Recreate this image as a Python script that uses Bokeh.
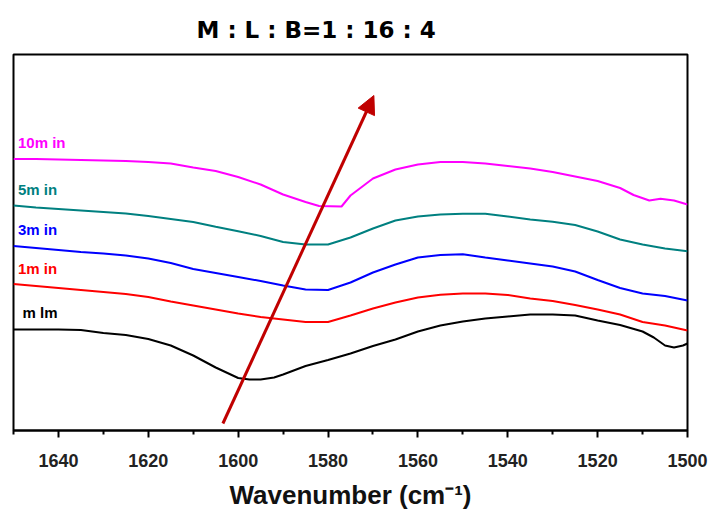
from bokeh.plotting import figure
from bokeh.models import Range1d, FixedTicker, Arrow, NormalHead, ColumnDataSource
from bokeh.embed import file_html
from bokeh.resources import INLINE
from bokeh.core.properties import value

# FTIR spectra (arbitrary transmittance units), stacked by reaction time
wn_mlm = [1650, 1645, 1640, 1635, 1630, 1625, 1620, 1615, 1610, 1605, 1600, 1597.5,
          1595, 1592, 1590, 1585, 1580, 1575, 1570, 1565, 1560, 1555, 1550, 1545,
          1540, 1535, 1530, 1525, 1520, 1515, 1510, 1507.5, 1505, 1503, 1501, 1500]
t_mlm = [101, 101, 101, 100.5, 97.5, 95.5, 91.5, 85, 75, 63, 52.5, 51,
         51, 53, 56, 64.5, 70.5, 77, 84.5, 91, 99, 105, 109, 112,
         114, 116, 116, 115, 110, 105.5, 99, 93, 85, 83, 85, 87]

wn_base = [1650, 1645, 1640, 1635, 1630, 1625, 1620, 1615, 1610, 1605, 1600,
           1595, 1590, 1585, 1580, 1575, 1570, 1565, 1560, 1555, 1550, 1545,
           1540, 1535, 1530, 1525, 1520, 1515, 1510, 1505, 1500]

t_1min = [146.5, 144.5, 142.5, 140.5, 138.5, 136.5, 133.5, 129, 125, 121, 117,
          113.5, 111, 108.5, 108.5, 115, 122, 128, 133, 135.7, 137, 137,
          135.5, 132, 129.5, 125.5, 121, 116, 108.5, 105, 100]

t_3min = [184.5, 182.5, 180.5, 178.5, 177, 175, 172, 167.5, 161.5, 157.5, 153.5,
          149.5, 145, 141, 140.5, 148, 158, 166, 173, 175.5, 176.3, 173,
          170, 167, 164, 159, 150.5, 142.5, 137, 134.5, 130]

t_5min = [225, 223, 221.5, 220, 218.5, 217, 214.5, 211.5, 208.5, 203.7, 199.3,
          194.5, 188.5, 186, 186, 193, 202, 210, 214, 216, 216.7, 216.7,
          214, 211, 208.7, 205.5, 199, 191, 186, 182, 179.3]

wn_10min = [1650, 1645, 1640, 1635, 1630, 1625, 1620, 1615, 1610, 1605, 1600,
            1595, 1590, 1585, 1582, 1577, 1575, 1570, 1565, 1560, 1555, 1550,
            1545, 1540, 1535, 1530, 1525, 1520, 1515, 1512, 1508.5, 1506, 1503, 1500]
t_10min = [271.5, 271.5, 271, 270.5, 270, 269.5, 268.5, 267, 263, 259.5, 253.5,
           246, 236, 228.5, 224.5, 224, 235, 252, 261, 266, 268.5, 268.5,
           267, 264.5, 262, 258.5, 254, 249.5, 242.5, 235.5, 230, 231.7, 230, 226]

series_colors = ["black", "#FF0000", "#0000FF", "#008080", "#FF00FF"]

# curve labels
label_text = ["m lm", "1m in", "3m in", "5m in", "10m in"]
label_x = [1648.0, 1649.0, 1649.0, 1649.0, 1649.0]
label_y = [118, 162, 201, 241, 288]

# trend arrow (tail -> tip)
arrow_tail = (1603.4, 7)
arrow_tip = (1569.8, 335)

major_ticks = [1640, 1620, 1600, 1580, 1560, 1540, 1520, 1500]
minor_ticks = [1650, 1630, 1610, 1590, 1570, 1550, 1530, 1510]

p = figure(width=718, height=513, output_backend="svg", toolbar_location=None,
           x_range=Range1d(1650, 1500), y_range=Range1d(0, 376),
           min_border_left=13, min_border_right=31, min_border_top=54,
           min_border_bottom=83, title="M : L : B=1 : 16 : 4")

p.title.align = "left"
p.title.offset = 183
p.title.standoff = 24
p.title.text_font = "DejaVu Sans"
p.title.text_font_style = "bold"
p.title.text_font_size = "23px"
p.title.text_color = "black"

p.grid.visible = False
p.yaxis.visible = False
p.outline_line_color = "black"
p.outline_line_width = 2
p.outline_line_alpha = 1.0
p.background_fill_color = "white"
p.border_fill_color = "white"

xa = p.xaxis[0]
xa.ticker = FixedTicker(ticks=major_ticks, minor_ticks=minor_ticks)
xa.axis_line_width = 2
xa.axis_line_color = "black"
xa.major_tick_in = 0
xa.major_tick_out = 7
xa.minor_tick_in = 0
xa.minor_tick_out = 4
xa.major_tick_line_width = 2
xa.minor_tick_line_width = 2
xa.major_label_text_font = "Liberation Sans"
xa.major_label_text_font_style = "bold"
xa.major_label_text_font_size = "18px"
xa.major_label_text_color = "#222222"
xa.major_label_standoff = 16
xa.axis_label = "Wavenumber (cm⁻¹)"
xa.axis_label_text_font = "Liberation Sans"
xa.axis_label_text_font_style = "bold"
xa.axis_label_text_font_size = "26px"
xa.axis_label_text_color = "#111111"
xa.axis_label_standoff = 10

curves = [(wn_mlm, t_mlm), (wn_base, t_1min), (wn_base, t_3min),
          (wn_base, t_5min), (wn_10min, t_10min)]
for (xs, ys), c in zip(curves, series_colors):
    p.line(xs, ys, line_color=c, line_width=2)

lab_src = ColumnDataSource(dict(x=label_x, y=label_y, text=label_text, color=series_colors))
p.text(x="x", y="y", text="text", text_color="color", source=lab_src,
       text_font=value("Liberation Sans"), text_font_style="bold",
       text_font_size="15px", text_baseline="middle", text_align="left")

arrow_color = "#C00000"
p.add_layout(Arrow(end=NormalHead(size=18, fill_color=arrow_color, line_color=arrow_color),
                   x_start=arrow_tail[0], y_start=arrow_tail[1],
                   x_end=arrow_tip[0], y_end=arrow_tip[1],
                   line_color=arrow_color, line_width=3))

open("out.html", "w").write(file_html(p, INLINE))
